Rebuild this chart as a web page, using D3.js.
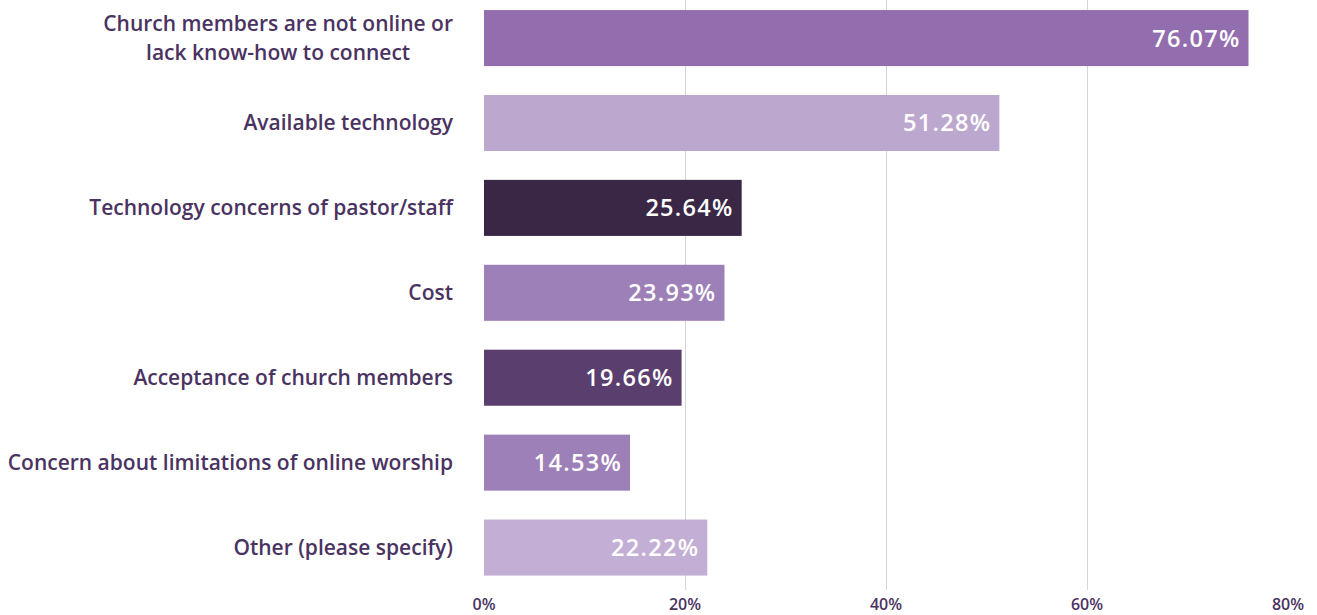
<!DOCTYPE html>
<html>
<head>
<meta charset="utf-8">
<script src="https://cdn.jsdelivr.net/npm/d3@7"></script>
<style>
  body { margin: 0; background: #ffffff; }
  svg { display: block; }
</style>
</head>
<body>
<div id="chart"></div>
<script>
// categories, top to bottom (line breaks as in the picture)
var categories = [
  ["Church members are not online or", "lack know-how to connect"],
  ["Available technology"],
  ["Technology concerns of pastor/staff"],
  ["Cost"],
  ["Acceptance of church members"],
  ["Concern about limitations of online worship"],
  ["Other (please specify)"]
]
var values = [76.07, 51.28, 25.64, 23.93, 19.66, 14.53, 22.22]
var barColors = ["#936eae", "#bca8cf", "#3a2746", "#9e80b9", "#5a3e6e", "#9e80b9", "#c3afd5"]
var ticks = [0, 20, 40, 60, 80]
var tickLabels = ["0%", "20%", "40%", "60%", "80%"]

var width = 1317, height = 615
var textColor = "#4a3361"
var font = "'Open Sans', sans-serif"

var svg = d3.select("#chart").append("svg")
  .attr("width", width)
  .attr("height", height)

var x = d3.scaleLinear().domain([0, 80]).range([484, 1288])

var y = d3.scaleBand()
  .domain(d3.range(values.length))
  .range([-4.4, 590])
  .paddingInner(0.34)
  .paddingOuter(0.17)

// vertical gridlines
svg.append("g")
  .selectAll("line")
  .data(ticks.filter(function(t) { return t > 0 && t < 80 }))
  .enter()
  .append("line")
  .attr("x1", function(d) { return Math.round(x(d)) + 0.5 })
  .attr("x2", function(d) { return Math.round(x(d)) + 0.5 })
  .attr("y1", 0)
  .attr("y2", 590)
  .attr("stroke", "#d8d2e0")
  .attr("stroke-width", 1)

// bars
svg.append("g")
  .selectAll("rect")
  .data(values)
  .enter()
  .append("rect")
  .attr("x", x(0))
  .attr("y", function(d, i) { return y(i) })
  .attr("width", function(d) { return x(d) - x(0) })
  .attr("height", y.bandwidth())
  .attr("fill", function(d, i) { return barColors[i] })

// value labels inside bars
svg.append("g")
  .selectAll("text")
  .data(values)
  .enter()
  .append("text")
  .attr("x", function(d) { return x(d) - 8 })
  .attr("y", function(d, i) { return y(i) + y.bandwidth() / 2 })
  .attr("dy", "0.36em")
  .attr("text-anchor", "end")
  .attr("fill", "#ffffff")
  .attr("font-family", font)
  .attr("font-weight", 600)
  .attr("font-size", "23.5px")
  .attr("letter-spacing", "1.3px")
  .text(function(d) { return d.toFixed(2) + "%" })

// category labels (multi-line ones are centred on each other, block right aligned)
var labelRight = 453
var lineH = 29
var labelG = svg.append("g")
  .attr("font-family", font)
  .attr("font-weight", 600)
  .attr("font-size", "21px")
  .attr("fill", textColor)

categories.forEach(function(lines, i) {
  var cy = y(i) + y.bandwidth() / 2
  var g = labelG.append("g")
  var t = g.selectAll("text")
    .data(lines)
    .enter()
    .append("text")
    .attr("y", function(d, j) { return cy + (j - (lines.length - 1) / 2) * lineH })
    .attr("dy", "0.35em")
    .text(function(d) { return d })
  var widths = []
  t.each(function() { widths.push(this.getComputedTextLength()) })
  var maxW = d3.max(widths)
  var center = labelRight - maxW / 2
  t.attr("x", center).attr("text-anchor", "middle")
})

// x axis tick labels
svg.append("g")
  .selectAll("text")
  .data(ticks)
  .enter()
  .append("text")
  .attr("x", function(d) { return x(d) })
  .attr("y", 610)
  .attr("text-anchor", "middle")
  .attr("fill", textColor)
  .attr("font-family", font)
  .attr("font-weight", 600)
  .attr("font-size", "16px")
  .text(function(d, i) { return tickLabels[i] })
</script>
</body>
</html>
